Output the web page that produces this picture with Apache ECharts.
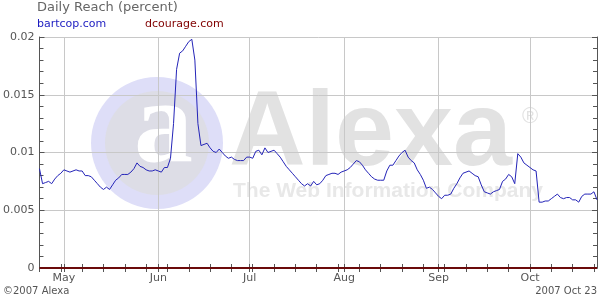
<!DOCTYPE html>
<html>
<head>
<meta charset="utf-8">
<script src="https://cdn.jsdelivr.net/npm/echarts@6/dist/echarts.min.js"></script>
<style>
html,body{margin:0;padding:0;background:#fff;}
#chart{width:610px;height:300px;}
</style>
</head>
<body>
<div id="chart"></div>
<script>
// ---- data ----
var startDate = '2007-04-23';
var endDate = '2007-10-23';
var yTicks = [0, 0.005, 0.01, 0.015, 0.02];
var monthNames = ['Jan','Feb','Mar','Apr','May','Jun','Jul','Aug','Sep','Oct','Nov','Dec'];
var bartcop = [
0.0086,0.0073,0.0074,0.0075,0.0073,0.0077,0.0080,0.0082,0.0085,0.0084,
0.0083,0.0084,0.0085,0.0084,0.0084,0.0080,0.0080,0.0079,0.0076,0.0073,
0.0070,0.0068,0.0070,0.0068,0.0072,0.0076,0.0078,0.0081,0.0081,0.0081,
0.0083,0.0086,0.0091,0.0088,0.0087,0.0085,0.0084,0.0084,0.0085,0.0084,
0.0083,0.0087,0.0087,0.0095,0.0125,0.0172,0.0186,0.0188,0.0192,0.0196,
0.0198,0.0180,0.0125,0.0106,0.0107,0.0108,0.0104,0.0101,0.0100,0.0103,
0.0100,0.0097,0.0095,0.0096,0.0094,0.0093,0.0093,0.0093,0.0096,0.0096,
0.0095,0.0101,0.0102,0.0098,0.0104,0.0100,0.0101,0.0102,0.0099,0.0096,
0.0092,0.0088,0.0085,0.0082,0.0079,0.0076,0.0073,0.0071,0.0073,0.0071,
0.0075,0.0072,0.0073,0.0076,0.0080,0.0081,0.0082,0.0082,0.0081,0.0083,
0.0084,0.0085,0.0087,0.0090,0.0093,0.0092,0.0089,0.0085,0.0082,0.0079,
0.0077,0.0076,0.0076,0.0076,0.0084,0.0089,0.0089,0.0093,0.0097,0.0100,
0.0102,0.0096,0.0093,0.0091,0.0085,0.0081,0.0076,0.0069,0.0070,0.0068,
0.0065,0.0062,0.0060,0.0063,0.0063,0.0064,0.0069,0.0073,0.0078,0.0082,
0.0083,0.0084,0.0082,0.0080,0.0079,0.0072,0.0066,0.0065,0.0064,0.0066,
0.0067,0.0068,0.0075,0.0077,0.0081,0.0079,0.0073,0.0099,0.0096,0.0091,
0.0089,0.0087,0.0085,0.0084,0.0057,0.0057,0.0058,0.0058,0.0060,0.0062,
0.0064,0.0061,0.0060,0.0061,0.0061,0.0059,0.0059,0.0057,0.0062,0.0064,
0.0064,0.0064,0.0066,0.0059
];
var dcourage = bartcop.map(function(){ return 0; });

// ---- build category dates ----
function pad(n){ return n < 10 ? '0' + n : '' + n; }
var dates = [];
var dayOfWeek = [];
(function(){
  var d = new Date(Date.UTC(2007, 3, 23));
  var e = new Date(Date.UTC(2007, 9, 23));
  while (d <= e) {
    dates.push(d.getUTCFullYear() + '-' + pad(d.getUTCMonth() + 1) + '-' + pad(d.getUTCDate()));
    dayOfWeek.push(d.getUTCDay());
    d = new Date(d.getTime() + 86400000);
  }
})();
function isMonthStart(i){ return dates[i].slice(8) === '01'; }
function isTick(i){ return isMonthStart(i) || dayOfWeek[i] === 1; }

var TXT = '#555555';
var FONT = 'DejaVu Sans';

var chart = echarts.init(document.getElementById('chart'), null, {renderer: 'canvas'});
chart.setOption({
  animation: false,
  backgroundColor: '#ffffff',
  textStyle: {fontFamily: FONT},
  grid: {left: 38, right: 13, top: 37, bottom: 32, containLabel: false},
  graphic: [
    {type: 'circle', z: -20, shape: {cx: 157, cy: 143, r: 66}, style: {fill: '#dedef8'}},
    {type: 'circle', z: -19, shape: {cx: 157, cy: 143, r: 52}, style: {fill: '#dddde6'}},
    {type: 'text', z: -18, left: 134, top: 72, style: {text: 'a', font: 'bold 118px "Liberation Serif"', fill: '#ffffff'}},
    {type: 'text', z: -18, left: 229, top: 83, style: {text: 'Alexa', font: 'bold 106px "Liberation Sans"', fill: '#e2e2e2'}},
    {type: 'text', z: -18, left: 522, top: 106, style: {text: '®', font: '22px "Liberation Sans"', fill: '#e2e2e2'}},
    {type: 'text', z: -18, left: 233, top: 181, style: {text: 'The Web Information Company', font: 'bold 21px "Liberation Sans"', fill: '#e8e8e8'}},
    {type: 'text', left: 37, top: 1, style: {text: 'Daily Reach (percent)', font: '13px "DejaVu Sans"', fill: '#666666'}},
    {type: 'text', left: 37, top: 19, style: {text: 'bartcop.com', font: '11px "DejaVu Sans"', fill: '#1c1cc0'}},
    {type: 'text', left: 145, top: 19, style: {text: 'dcourage.com', font: '11px "DejaVu Sans"', fill: '#800000'}},
    {type: 'text', left: 3, top: 286, style: {text: '\u00a92007 Alexa', font: '10px "DejaVu Sans"', fill: TXT}},
    {type: 'text', right: 13, top: 286, style: {text: '2007 Oct 23', font: '10px "DejaVu Sans"', fill: TXT}}
  ],
  xAxis: [
    {
      type: 'category', position: 'bottom', data: dates, boundaryGap: false,
      axisLine: {show: true, lineStyle: {color: '#666666', width: 1}},
      axisTick: {show: true, inside: true, length: 4, interval: function(i){ return isTick(i); }, lineStyle: {color: '#555555'}},
      axisLabel: {
        show: true, color: TXT, fontSize: 11, fontFamily: FONT, margin: 5,
        interval: function(i){ return isMonthStart(i); },
        formatter: function(v){ return monthNames[parseInt(v.slice(5,7),10) - 1]; }
      },
      splitLine: {show: true, interval: function(i){ return isMonthStart(i); }, lineStyle: {color: '#c8c8c8', width: 1}}
    },
    {
      type: 'category', position: 'top', data: dates, boundaryGap: false,
      axisLine: {show: true, lineStyle: {color: '#666666', width: 1}},
      axisTick: {show: true, inside: true, length: 4, interval: function(i){ return isTick(i); }, lineStyle: {color: '#555555'}},
      axisLabel: {show: false},
      splitLine: {show: false}
    }
  ],
  yAxis: [
    {
      type: 'value', position: 'left', min: 0, max: 0.02, interval: 0.005,
      axisLine: {show: true, lineStyle: {color: '#555555', width: 1}},
      axisTick: {show: true, inside: true, length: 5, lineStyle: {color: '#555555'}},
      minorTick: {show: true, splitNumber: 5, length: 4, lineStyle: {color: '#555555'}},
      axisLabel: {
        color: TXT, fontSize: 11, fontFamily: FONT, margin: 5,
        formatter: function(v){ return String(yTicks[Math.round(v / 0.005)]); }
      },
      splitLine: {show: true, lineStyle: {color: '#c8c8c8', width: 1}}
    },
    {
      type: 'value', position: 'right', min: 0, max: 0.02, interval: 0.005,
      axisLine: {show: true, lineStyle: {color: '#555555', width: 1}},
      axisTick: {show: true, inside: true, length: 5, lineStyle: {color: '#555555'}},
      minorTick: {show: true, splitNumber: 5, length: 4, lineStyle: {color: '#555555'}},
      axisLabel: {show: false},
      splitLine: {show: false}
    }
  ],
  series: [
    {
      name: 'dcourage.com', type: 'line', data: dcourage, xAxisIndex: 0, yAxisIndex: 0,
      showSymbol: false, symbol: 'none', clip: false,
      lineStyle: {color: '#6b0a0a', width: 2}, z: 3
    },
    {
      name: 'bartcop.com', type: 'line', data: bartcop, xAxisIndex: 0, yAxisIndex: 0,
      showSymbol: false, symbol: 'none',
      lineStyle: {color: '#2424b8', width: 1}, z: 4
    }
  ]
});
</script>
</body>
</html>
